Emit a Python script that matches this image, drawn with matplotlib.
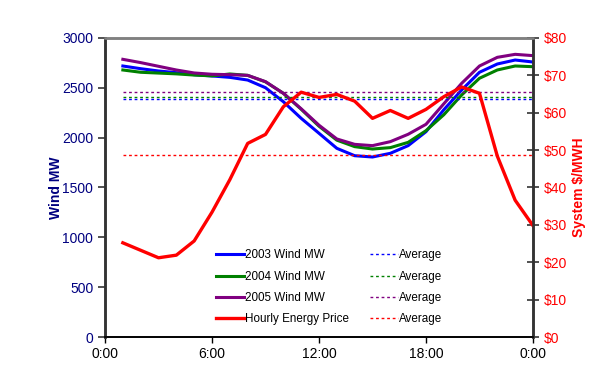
import numpy as np
import matplotlib
matplotlib.use('Agg')
import matplotlib.pyplot as plt
from matplotlib.ticker import FuncFormatter

plt.rcParams['font.family'] = ['Liberation Sans', 'DejaVu Sans']

hours = list(range(1, 25))

wind_2003 = [2719, 2692, 2669, 2652, 2632, 2619, 2605, 2578, 2501, 2361, 2194, 2044,
             1893, 1819, 1806, 1843, 1920, 2060, 2280, 2478, 2656, 2739, 2779, 2759]
wind_2004 = [2679, 2656, 2648, 2640, 2628, 2620, 2639, 2625, 2560, 2445, 2285, 2115,
             1975, 1910, 1886, 1900, 1953, 2070, 2230, 2428, 2596, 2679, 2719, 2712]
wind_2005 = [2786, 2753, 2716, 2679, 2649, 2636, 2632, 2625, 2562, 2445, 2290, 2125,
             1987, 1933, 1920, 1960, 2034, 2134, 2340, 2545, 2719, 2806, 2836, 2823]
price = [25.2, 23.2, 21.2, 21.9, 25.7, 33.4, 42.1, 51.8, 54.2, 61.6, 65.5, 64.1,
         64.9, 63.1, 58.5, 60.6, 58.5, 60.9, 64.3, 66.9, 65.2, 48.4, 36.6, 29.8]

avg_2003 = 2385
avg_2004 = 2405
avg_2005 = 2455
avg_price = 48.6

navy = '#000080'
c2003, c2004, c2005, cprice = '#0000FF', '#008000', '#800080', '#FF0000'

fig = plt.figure(figsize=(6.06, 3.75), dpi=100)
ax = fig.add_axes([0.1733, 0.1013, 0.7062, 0.7974])
ax2 = ax.twinx()

l1, = ax.plot(hours, wind_2003, color=c2003, lw=2.2, label='2003 Wind MW')
l2, = ax.plot(hours, wind_2004, color=c2004, lw=2.2, label='2004 Wind MW')
l3, = ax.plot(hours, wind_2005, color=c2005, lw=2.2, label='2005 Wind MW')
l4, = ax2.plot(hours, price, color=cprice, lw=2.4, label='Hourly Energy Price')

a1, = ax.plot([1, 24], [avg_2003] * 2, color=c2003, lw=1, ls=(0, (2, 2)), label='Average')
a2, = ax.plot([1, 24], [avg_2004] * 2, color=c2004, lw=1, ls=(0, (2, 2)), label='Average')
a3, = ax.plot([1, 24], [avg_2005] * 2, color=c2005, lw=1, ls=(0, (2, 2)), label='Average')
a4, = ax2.plot([1, 24], [avg_price] * 2, color=cprice, lw=1, ls=(0, (2, 2)), label='Average')

ax.set_xlim(0, 24)
ax.set_ylim(0, 3000)
ax2.set_ylim(0, 80)
ax.set_xticks([0, 6, 12, 18, 24])
ax.set_xticklabels(['0:00', '6:00', '12:00', '18:00', '0:00'])
ax.set_yticks(range(0, 3001, 500))
ax2.set_yticks(range(0, 81, 10))
ax2.yaxis.set_major_formatter(FuncFormatter(lambda v, p: '$%d' % v))

ax.tick_params(axis='y', colors='#333333', labelcolor=navy, labelsize=10, length=5, width=1.2, direction='out')
ax.tick_params(axis='x', colors='black', labelcolor='black', labelsize=10, length=4, width=1, direction='out')
ax2.tick_params(axis='y', colors='#333333', labelcolor='#FF0000', labelsize=10, length=8, width=1.2, direction='inout')

ax.set_ylabel('Wind MW', color=navy, fontsize=10, fontweight='bold', labelpad=-1)
ax2.set_ylabel('System $/MWH', color='#FF0000', fontsize=10, fontweight='bold', labelpad=4)

for a in (ax, ax2):
    a.spines['left'].set_color('#333333')
    a.spines['left'].set_linewidth(1.8)
    a.spines['right'].set_color('#333333')
    a.spines['right'].set_linewidth(1.8)
    a.spines['top'].set_color('#808080')
    a.spines['top'].set_linewidth(1.8)
    a.spines['bottom'].set_color('black')
    a.spines['bottom'].set_linewidth(1.2)

handles = [l1, l2, l3, l4, a1, a2, a3, a4]
labels = [h.get_label() for h in handles]
leg = ax.legend(handles, labels, ncol=2, frameon=False, fontsize=8.4,
                loc='lower left', bbox_to_anchor=(0.235, 0.004),
                handlelength=2.4, handletextpad=0.1, columnspacing=1.8,
                labelspacing=0.8)

fig.savefig('out.png', dpi=100)
